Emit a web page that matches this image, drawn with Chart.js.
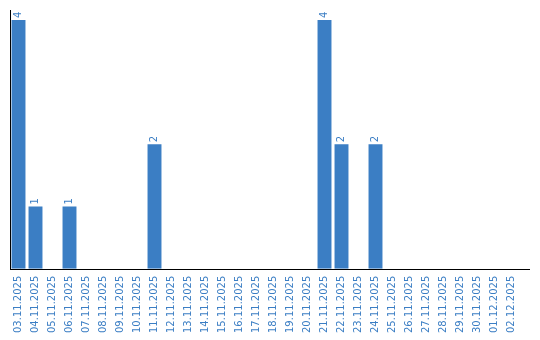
<!DOCTYPE html>
<html>
<head>
<meta charset="utf-8">
<script src="https://cdn.jsdelivr.net/npm/chart.js@4"></script>
<style>
  html, body { margin: 0; padding: 0; background: #fff; }
  #wrap { width: 540px; height: 340px; }
</style>
</head>
<body>
<div id="wrap"><canvas id="grafBarras" width="540" height="340"></canvas></div>
<script>
// datas (eixo x)
const dias = [
  '03.11.2025', '04.11.2025', '05.11.2025', '06.11.2025', '07.11.2025',
  '08.11.2025', '09.11.2025', '10.11.2025', '11.11.2025', '12.11.2025',
  '13.11.2025', '14.11.2025', '15.11.2025', '16.11.2025', '17.11.2025',
  '18.11.2025', '19.11.2025', '20.11.2025', '21.11.2025', '22.11.2025',
  '23.11.2025', '24.11.2025', '25.11.2025', '26.11.2025', '27.11.2025',
  '28.11.2025', '29.11.2025', '30.11.2025', '01.12.2025', '02.12.2025'
];
// quantidade por dia
const quantidade = [4, 1, 0, 1, 0, 0, 0, 0, 2, 0, 0, 0, 0, 0, 0, 0, 0, 0, 4, 2, 0, 2, 0, 0, 0, 0, 0, 0, 0, 0];

const azul = 'rgb(59, 126, 196)';

// rotulos em cima das barras, girados
const rotulos = {
  id: 'rotulos',
  afterDatasetsDraw(chart) {
    const c = chart.ctx;
    const meta = chart.getDatasetMeta(0);
    c.save();
    c.fillStyle = azul;
    c.font = '10px "DejaVu Sans"';
    c.textAlign = 'left';
    c.textBaseline = 'middle';
    meta.data.forEach((bar, i) => {
      const v = quantidade[i];
      if (!v) return;
      c.save();
      c.translate(bar.x, bar.y - 2);
      c.rotate(-Math.PI / 2);
      c.fillText(String(v), 0, 0);
      c.restore();
    });
    c.restore();
  }
};

// linha do eixo x, passando um pouco do fim das barras
const linhaEixo = {
  id: 'linhaEixo',
  afterDraw(chart) {
    const c = chart.ctx;
    const a = chart.chartArea;
    const y = Math.round(a.bottom) + 0.5;
    c.save();
    c.strokeStyle = '#000';
    c.lineWidth = 1;
    c.beginPath();
    c.moveTo(a.left, y);
    c.lineTo(a.right + 10, y);
    c.stroke();
    c.restore();
  }
};

const ctx = document.getElementById('grafBarras').getContext('2d');

const myChart = new Chart(ctx, {
  type: 'bar',
  data: {
    labels: dias,
    datasets: [{
      data: quantidade,
      backgroundColor: azul,
      borderWidth: 0,
      barPercentage: 0.82,
      categoryPercentage: 1
    }]
  },
  options: {
    responsive: false,
    animation: false,
    layout: { padding: { left: 10, right: 20, top: 10, bottom: 0 } },
    plugins: {
      legend: { display: false },
      tooltip: { enabled: false }
    },
    scales: {
      x: {
        grid: { display: false, drawTicks: false },
        border: { display: false },
        ticks: {
          color: azul,
          font: { family: 'DejaVu Sans', size: 10 },
          minRotation: 90,
          maxRotation: 90,
          autoSkip: false,
          padding: 7
        }
      },
      y: {
        min: 0,
        max: 4.16,
        grid: { display: false, drawTicks: false },
        border: { display: true, color: '#000', width: 1 },
        ticks: { display: false }
      }
    }
  },
  plugins: [rotulos, linhaEixo]
});
</script>
</body>
</html>
